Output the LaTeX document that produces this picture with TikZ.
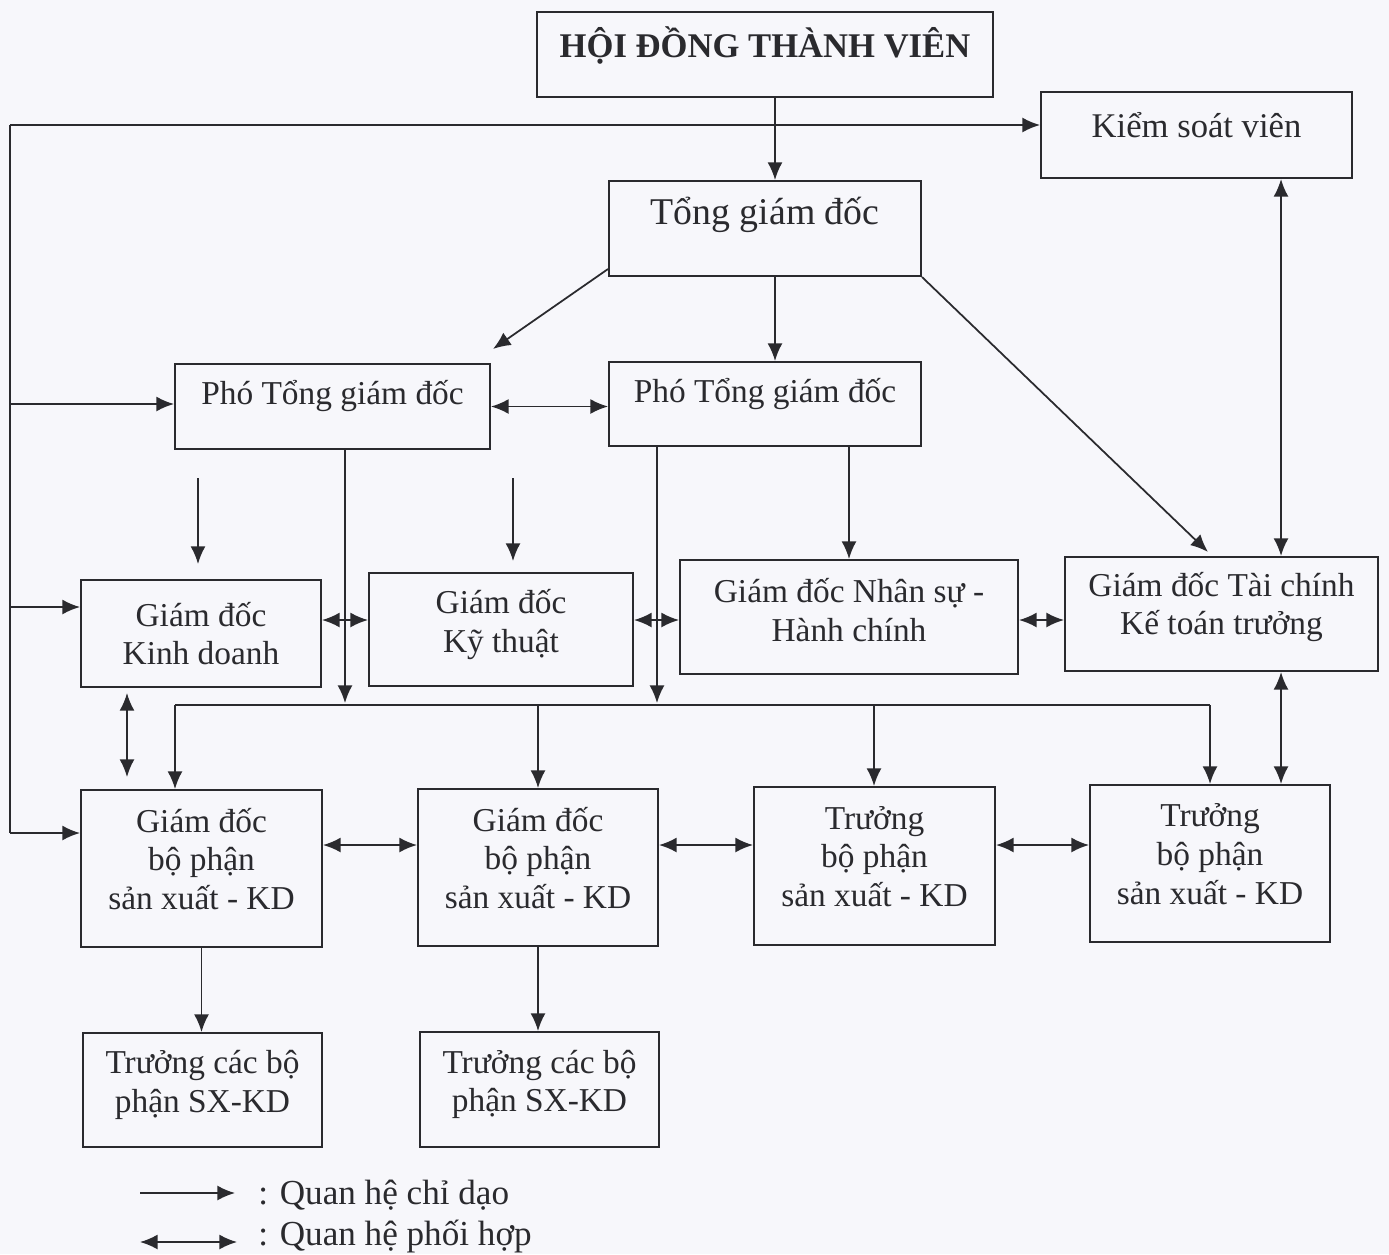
\documentclass[tikz,border=0pt]{standalone}
\usepackage{fontspec}
\setmainfont{Liberation Serif}
\usetikzlibrary{positioning, calc, arrows.meta}
\definecolor{InkDark}{HTML}{2A2A2E}
\definecolor{PaperBg}{HTML}{F7F7FB}

\begin{document}
\begin{tikzpicture}[
    x=0.02cm, y=-0.02cm,
    font=\fontsize{19}{22}\selectfont,
    box/.style={rectangle, draw=InkDark, line width=1.2pt, align=center, inner sep=2pt, text=InkDark},
    lift/.style={text depth=#1},
    legendtext/.style={anchor=west, inner sep=0pt, text=InkDark, font=\fontsize{20}{22}\selectfont},
    arrow/.style={-{Latex[length=10pt, width=8.5pt]}, line width=1pt, color=InkDark},
    dblarrow/.style={{Latex[length=10pt, width=8.5pt]}-{Latex[length=10pt, width=8.5pt]}, line width=1pt, color=InkDark},
    link/.style={line width=1pt, color=InkDark}
]
    \useasboundingbox (0,0) rectangle (1389,1254);
    \fill[PaperBg] (0,0) rectangle (1389,1254);

    % top levels
    \node[box, lift=14pt, minimum width=9.12cm, minimum height=1.7cm, font=\fontsize{19.7}{22}\selectfont] (hdtv) at (765,54.5) {\textbf{HỘI ĐỒNG THÀNH VIÊN}};
    \node[box, lift=12pt, minimum width=6.22cm, minimum height=1.72cm, font=\fontsize{19.7}{22}\selectfont] (ksv) at (1196.5,135) {Kiểm soát viên};
    \node[box, lift=20pt, minimum width=6.24cm, minimum height=1.9cm, font=\fontsize{21.5}{24}\selectfont] (tgd) at (765,228.5) {Tổng giám đốc};
    \node[box, lift=16pt, minimum width=6.3cm, minimum height=1.7cm] (ptgdA) at (332.5,406.5) {Phó Tổng giám đốc};
    \node[box, lift=16pt, minimum width=6.24cm, minimum height=1.68cm] (ptgdB) at (765,404) {Phó Tổng giám đốc};

    % giám đốc
    \node[box, minimum width=4.8cm, minimum height=2.14cm] (gdkd) at (201,633.5) {Giám đốc\\Kinh doanh};
    \node[box, lift=10pt, minimum width=5.28cm, minimum height=2.26cm] (gdkt) at (501,629.5) {Giám đốc\\Kỹ thuật};
    \node[box, lift=8pt, minimum width=6.76cm, minimum height=2.28cm] (gdns) at (849,617) {Giám đốc Nhân sự -\\Hành chính};
    \node[box, lift=12pt, minimum width=6.26cm, minimum height=2.28cm] (gdtc) at (1221.5,614) {Giám đốc Tài chính\\Kế toán trưởng};

    % bộ phận
    \node[box, lift=11pt, minimum width=4.82cm, minimum height=3.14cm] (gdbpA) at (201.5,868.5) {Giám đốc\\bộ phận\\sản xuất - KD};
    \node[box, lift=11pt, minimum width=4.8cm, minimum height=3.14cm] (gdbpB) at (538,867.5) {Giám đốc\\bộ phận\\sản xuất - KD};
    \node[box, lift=11pt, minimum width=4.82cm, minimum height=3.16cm] (tbpA) at (874.5,866) {Trưởng\\bộ phận\\sản xuất - KD};
    \node[box, lift=11pt, minimum width=4.8cm, minimum height=3.14cm] (tbpB) at (1210,863.5) {Trưởng\\bộ phận\\sản xuất - KD};
    \node[box, lift=10pt, minimum width=4.78cm, minimum height=2.28cm] (tcbpA) at (202.5,1090) {Trưởng các bộ\\phận SX-KD};
    \node[box, lift=10pt, minimum width=4.78cm, minimum height=2.3cm] (tcbpB) at (539.5,1089.5) {Trưởng các bộ\\phận SX-KD};

    % hội đồng -> tổng giám đốc
    \draw[arrow] ([xshift=0.2cm]hdtv.south) -- ([xshift=0.2cm]tgd.north);

    % left bus
    \coordinate (l1) at (10,125);
    \coordinate (l2) at (10,404);
    \coordinate (l3) at (10,607);
    \coordinate (l4) at (10,833);
    \draw[link] (l1) -- (l4);
    \draw[arrow] (l1) -- (l1 -| ksv.west);
    \draw[arrow] (l2) -- (l2 -| ptgdA.west);
    \draw[arrow] (l3) -- (l3 -| gdkd.west);
    \draw[arrow] (l4) -- (l4 -| gdbpA.west);

    % tổng giám đốc
    \draw[arrow] ([yshift=0.16cm]tgd.south west) -- ([xshift=0.04cm, yshift=0.28cm]ptgdA.north east);
    \draw[arrow] ([xshift=0.2cm]tgd.south) -- ([xshift=0.2cm]ptgdB.north);
    \draw[arrow] (tgd.south east) -- ([xshift=-0.27cm, yshift=0.08cm]gdtc.north);
    \coordinate (kx) at (1281,0);
    \draw[dblarrow] (ksv.south -| kx) -- (gdtc.north -| kx);
    \draw[dblarrow] (gdtc.south -| kx) -- (tbpB.north -| kx);

    % phó tổng giám đốc
    \draw[dblarrow] (ptgdA.east) -- (ptgdA.east -| ptgdB.west);
    \coordinate (f1) at (198,478);
    \coordinate (f2) at (513,478);
    \draw[arrow, shorten >=0.3cm] (f1) -- (f1 |- gdkd.north);
    \draw[arrow, shorten >=0.22cm] (f2) -- (f2 |- gdkt.north);
    \coordinate (b1) at (345,703);
    \coordinate (b2) at (657,703);
    \draw[arrow] (ptgdA.south -| b1) -- (b1);
    \draw[arrow] (ptgdB.south -| b2) -- (b2);
    \draw[arrow] (ptgdB.south -| gdns.north) -- (gdns.north);

    % giám đốc links
    \coordinate (m1) at (0,620);
    \draw[dblarrow] (gdkd.east |- m1) -- (gdkt.west |- m1);
    \draw[dblarrow] (gdkt.east |- m1) -- (gdns.west |- m1);
    \draw[dblarrow] (gdns.east |- m1) -- (gdtc.west |- m1);
    \coordinate (kd) at (127,0);
    \draw[dblarrow, shorten <=0.1cm, shorten >=0.24cm] (gdkd.south -| kd) -- (gdbpA.north -| kd);

    % bus to bộ phận
    \coordinate (t1) at (175,705);
    \coordinate (t2) at (538,705);
    \coordinate (t3) at (874,705);
    \coordinate (t4) at (1210,705);
    \draw[link] (t1) -- (t4);
    \draw[arrow] (t1) -- (t1 |- gdbpA.north);
    \draw[arrow] (t2) -- (t2 |- gdbpB.north);
    \draw[arrow] (t3) -- (t3 |- tbpA.north);
    \draw[arrow] (t4) -- (t4 |- tbpB.north);

    % bộ phận links
    \coordinate (m2) at (0,845);
    \draw[dblarrow] (gdbpA.east |- m2) -- (gdbpB.west |- m2);
    \draw[dblarrow] (gdbpB.east |- m2) -- (tbpA.west |- m2);
    \draw[dblarrow] (tbpA.east |- m2) -- (tbpB.west |- m2);
    \draw[arrow] (gdbpA.south) -- (gdbpA.south |- tcbpA.north);
    \draw[arrow] (gdbpB.south) -- (gdbpB.south |- tcbpB.north);

    % legend
    \node[legendtext] (legA) at (258,1195) {: Quan hệ chỉ dạo};
    \node[legendtext] (legB) at (258,1237) {: Quan hệ phối hợp};
    \coordinate (g1) at (140,1193);
    \coordinate (g2) at (140,1242);
    \draw[arrow, shorten >=0.46cm] (g1) -- (g1 -| legA.west);
    \draw[dblarrow, shorten >=0.42cm] (g2) -- (g2 -| legB.west);
\end{tikzpicture}
\end{document}
